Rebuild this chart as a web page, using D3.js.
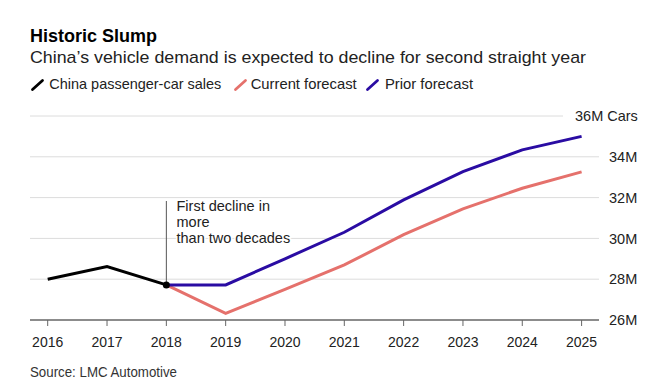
<!DOCTYPE html>
<html>
<head>
<meta charset="utf-8">
<script src="https://cdn.jsdelivr.net/npm/d3@7"></script>
<style>
  html, body { margin: 0; padding: 0; background: #fff; }
  svg { display: block; font-family: "Liberation Sans", Arial, sans-serif; }
</style>
</head>
<body>
<svg id="chart" width="669" height="391"></svg>
<script>
const years = [2016, 2017, 2018, 2019, 2020, 2021, 2022, 2023, 2024, 2025];
const salesYears = [2016, 2017, 2018];
const salesValues = [28.0, 28.62, 27.72];
const forecastYears = [2018, 2019, 2020, 2021, 2022, 2023, 2024, 2025];
const currentValues = [27.72, 26.33, 27.5, 28.7, 30.18, 31.45, 32.46, 33.26];
const priorValues = [27.72, 27.72, 29.0, 30.3, 31.89, 33.27, 34.34, 35.0];
const yTicks = [26, 28, 30, 32, 34, 36];
const yTickLabels = ["26M", "28M", "30M", "32M", "34M", "36M Cars"];
const seriesNames = ["China passenger-car sales", "Current forecast", "Prior forecast"];

const colors = ["#000000", "#e5716c", "#2a0ca3"];

const svg = d3.select("#chart");
const x = d3.scalePoint().domain(years).range([47.7, 581.6]);
const y = d3.scaleLinear().domain([26, 36]).range([320, 116]);

// Title
svg.append("text").attr("x", 30).attr("y", 41.7).attr("font-size", 17.5).attr("font-weight", "bold")
  .attr("fill", "#000").attr("textLength", 127).attr("lengthAdjust", "spacingAndGlyphs").text("Historic Slump");
svg.append("text").attr("x", 30).attr("y", 62.5).attr("font-size", 17).attr("fill", "#222")
  .attr("textLength", 556).attr("lengthAdjust", "spacingAndGlyphs")
  .text("China\u2019s vehicle demand is expected to decline for second straight year");

// Legend
const legSlashX = [32.5, 235.5, 367.5];
const legTextX = [49.3, 250.7, 385];
const legW = [172, 106, 88];
seriesNames.forEach((name, i) => {
  svg.append("line").attr("x1", legSlashX[i]).attr("y1", 89.5).attr("x2", legSlashX[i] + 10).attr("y2", 80.5)
    .attr("stroke", colors[i]).attr("stroke-width", 2.8).attr("stroke-linecap", "round");
  svg.append("text").attr("x", legTextX[i]).attr("y", 89.3).attr("font-size", 14.5).attr("fill", "#222")
    .attr("textLength", legW[i]).attr("lengthAdjust", "spacingAndGlyphs").text(name);
});

// Gridlines
const grid = svg.append("g");
yTicks.forEach(t => {
  if (t === 26) return;
  grid.append("line").attr("x1", 30).attr("x2", t === 36 ? 563 : 599)
    .attr("y1", y(t)).attr("y2", y(t)).attr("stroke", "#dcdcdc").attr("stroke-width", 1);
});

// Y labels
yTicks.forEach((t, i) => {
  svg.append("text").attr("x", t === 36 ? 575 : 609).attr("y", y(t) + 5.2)
    .attr("font-size", 14.5).attr("fill", "#222").text(yTickLabels[i]);
});

// X axis
const xAxis = svg.append("g").attr("transform", "translate(0,320)");
xAxis.append("line").attr("x1", 30).attr("x2", 599).attr("y1", 0).attr("y2", 0)
  .attr("stroke", "#666").attr("stroke-width", 1.3);
years.forEach(yr => {
  xAxis.append("line").attr("x1", x(yr)).attr("x2", x(yr)).attr("y1", 0).attr("y2", 6)
    .attr("stroke", "#666").attr("stroke-width", 1);
  xAxis.append("text").attr("x", x(yr)).attr("y", 26.7).attr("text-anchor", "middle")
    .attr("font-size", 14).attr("fill", "#222").text(yr);
});

// Annotation
svg.append("line").attr("x1", x(2018)).attr("x2", x(2018)).attr("y1", 201).attr("y2", y(salesValues[2]))
  .attr("stroke", "#555").attr("stroke-width", 1);
const ann = ["First decline in", "more", "than two decades"];
ann.forEach((s, i) => {
  svg.append("text").attr("x", 176.5).attr("y", 211 + i * 16).attr("font-size", 14.5)
    .attr("fill", "#222").attr("stroke", "#fff").attr("stroke-width", 3).attr("paint-order", "stroke")
    .text(s);
});

// Lines
const line = d3.line().x(d => x(d[0])).y(d => y(d[1]));
svg.append("path").datum(forecastYears.map((yr, i) => [yr, currentValues[i]]))
  .attr("d", line).attr("fill", "none").attr("stroke", colors[1]).attr("stroke-width", 3);
svg.append("path").datum(forecastYears.map((yr, i) => [yr, priorValues[i]]))
  .attr("d", line).attr("fill", "none").attr("stroke", colors[2]).attr("stroke-width", 3);
svg.append("path").datum(salesYears.map((yr, i) => [yr, salesValues[i]]))
  .attr("d", line).attr("fill", "none").attr("stroke", colors[0]).attr("stroke-width", 3);
svg.append("circle").attr("cx", x(2018)).attr("cy", y(salesValues[2])).attr("r", 3.5).attr("fill", "#000");

// Source
svg.append("text").attr("x", 30).attr("y", 376.7).attr("font-size", 14).attr("fill", "#333")
  .attr("textLength", 147).attr("lengthAdjust", "spacingAndGlyphs").text("Source: LMC Automotive");
</script>
</body>
</html>
